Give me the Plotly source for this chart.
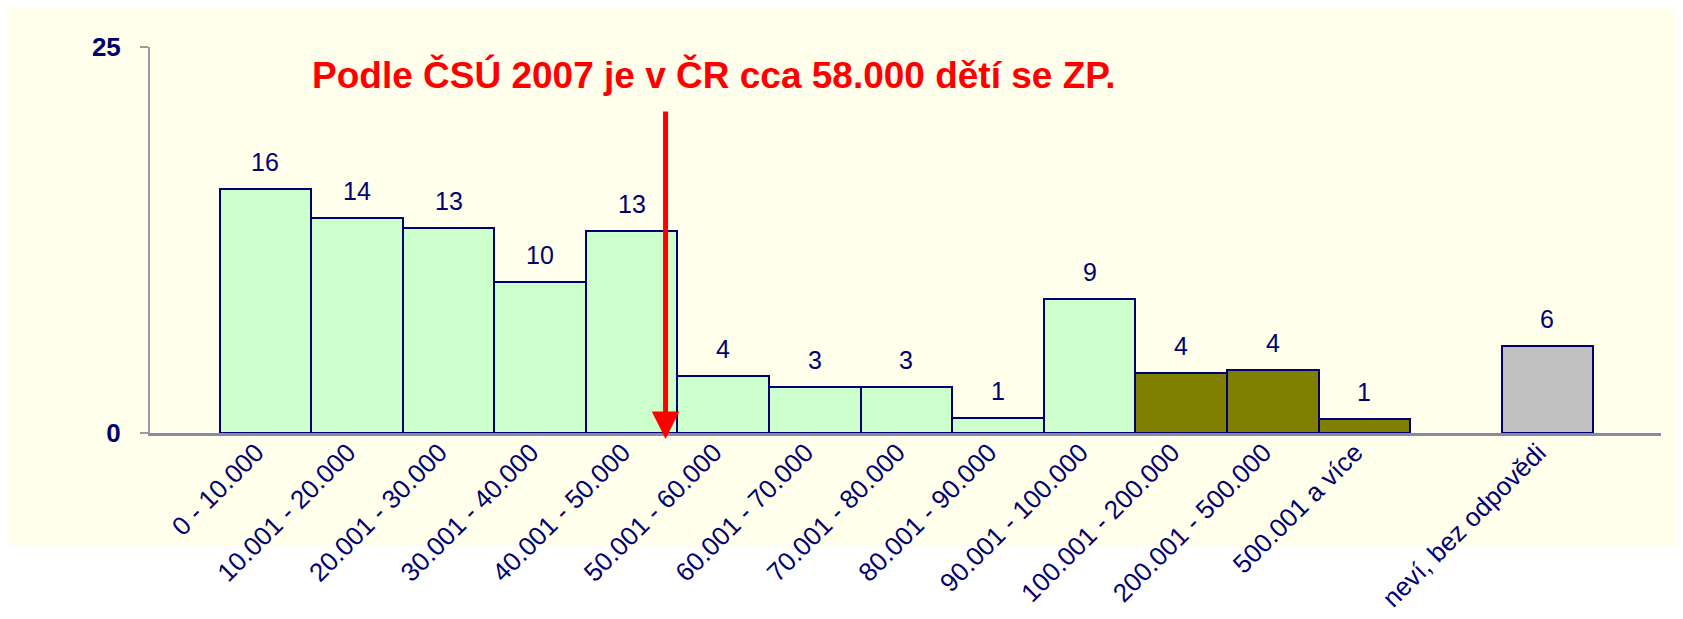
import plotly.graph_objects as go

# ---- data ----
categories = ["0 - 10.000", "10.001 - 20.000", "20.001 - 30.000", "30.001 - 40.000",
              "40.001 - 50.000", "50.001 - 60.000", "60.001 - 70.000", "70.001 - 80.000",
              "80.001 - 90.000", "90.001 - 100.000", "100.001 - 200.000",
              "200.001 - 500.000", "500.001 a více", "neví, bez odpovědi"]
values = [15.8, 13.95, 13.3, 9.8, 13.1, 3.7, 3.0, 3.0, 0.95, 8.7, 3.9, 4.1, 0.9, 5.65]
value_labels = ["16", "14", "13", "10", "13", "4", "3", "3", "1", "9", "4", "4", "1", "6"]
groups = ["low"] * 10 + ["high"] * 3 + ["unknown"]
y_ticks = [0, 25]
note_text = "Podle ČSÚ 2007 je v ČR cca 58.000 dětí se ZP."
note_x = 4.37  # position of the arrow on the category scale

# ---- styling ----
group_colors = {"low": "#CCFFCC", "high": "#808000", "unknown": "#C0C0C0"}
navy = "#000070"
bg_yellow = "#FFFFEB"
gap_cat = "\u2009"  # empty slot between the ranges and the "unknown" bar

cat_order = categories[:-1] + [gap_cat] + categories[-1:]

fig = go.Figure()
fig.add_trace(go.Bar(
    x=categories, y=values,
    marker=dict(color=[group_colors[g] for g in groups],
                line=dict(color=navy, width=2)),
    width=1.0, hoverinfo="x+y", showlegend=False,
))

annotations = []
for c, v, t in zip(categories, values, value_labels):
    annotations.append(dict(x=c, y=v, xref="x", yref="y", text=t, showarrow=False,
                            yanchor="bottom", yshift=11,
                            font=dict(family="Liberation Sans, Arial", size=25, color=navy)))

# red note and arrow
annotations.append(dict(x=0.373, y=0.928, xref="paper", yref="paper", text="<b>" + note_text + "</b>",
                        showarrow=False, xanchor="center", yanchor="middle",
                        font=dict(family="Liberation Sans, Arial", size=37, color="#FF0000")))
annotations.append(dict(x=note_x, y=-0.0155, xref="x", yref="paper", text="", showarrow=True,
                        ax=0, ay=-329, axref="pixel", ayref="pixel",
                        arrowhead=2, arrowsize=1.1, arrowwidth=5, arrowcolor="#FF0000",
                        standoff=0, startstandoff=0))

shapes = [
    # yellow slide background
    dict(type="rect", xref="paper", yref="paper", x0=-0.096, x1=1.03, y0=-0.2927, y1=1.109,
         fillcolor=bg_yellow, line=dict(width=0), layer="below"),
    # axis extensions below zero
    dict(type="line", xref="paper", yref="y", x0=0, x1=0, ysizemode="pixel", yanchor=0,
         y0=0, y1=-14, line=dict(color="#9A9AA6", width=2)),
    dict(type="line", xref="paper", yref="y", x0=1, x1=1, ysizemode="pixel", yanchor=0,
         y0=0, y1=-14, line=dict(color="#9A9AA6", width=2)),
]

fig.update_layout(
    width=1675, height=611,
    margin=dict(l=142, r=22, t=39, b=186),
    paper_bgcolor="white", plot_bgcolor=bg_yellow,
    bargap=0,
    annotations=annotations, shapes=shapes,
    xaxis=dict(type="category", categoryorder="array", categoryarray=cat_order,
               range=[-1.26, 15.24], tickangle=-45, ticks="", showgrid=False,
               showline=True, linecolor="#8A8AA8", linewidth=3, automargin=False,
               ticklabelstandoff=-9, ticklabelshift=-9,
               tickfont=dict(family="Liberation Sans, Arial", size=26, color=navy)),
    yaxis=dict(range=[0, 25], tickvals=y_ticks, ticks="outside", ticklen=8, tickwidth=2,
               tickcolor="#9A9AA6", showline=True, linecolor="#9A9AA6", linewidth=2,
               showgrid=True, gridcolor="#C8C8C8", griddash="dot", gridwidth=1,
               zeroline=False, automargin=False, ticklabelstandoff=14,
               tickfont=dict(family="Liberation Sans, Arial", size=26, color=navy, weight="bold")),
)

fig.write_html("out.html")
